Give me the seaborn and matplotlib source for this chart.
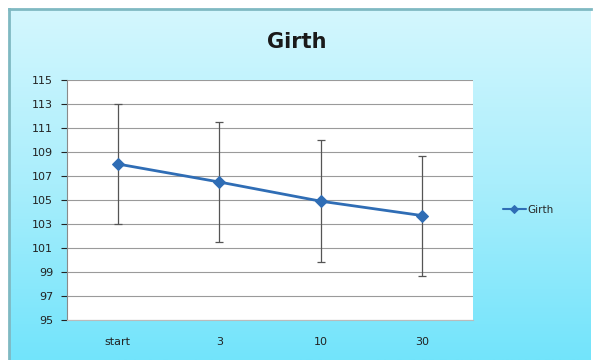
import matplotlib.pyplot as plt
import matplotlib.colors as mcolors
import numpy as np
import seaborn as sns

# values
categories = ['start', '3', '10', '30']
girth = [108.0, 106.5, 104.9, 103.7]
girth_err = [5.0, 5.0, 5.1, 5.0]
y_ticks = [95, 97, 99, 101, 103, 105, 107, 109, 111, 113, 115]

sns.set_style('white')
plt.rcParams['font.family'] = ['DejaVu Sans']

W, H = 593, 360
fig = plt.figure(figsize=(W / 100, H / 100), dpi=100)
fig.patch.set_facecolor('white')

# light blue gradient chart background
bg = fig.add_axes([9 / W, 0, (W - 11) / W, (H - 9) / H])
cmap = mcolors.LinearSegmentedColormap.from_list('sky', ['#72e4fb', '#a9eefc', '#d4f7fe'])
grad = np.linspace(0, 1, 256).reshape(-1, 1)
bg.imshow(grad, aspect='auto', cmap=cmap, origin='lower', extent=[0, 1, 0, 1])
bg.set_xticks([])
bg.set_yticks([])
for side in ['right', 'bottom']:
    bg.spines[side].set_visible(False)
for side in ['left', 'top']:
    bg.spines[side].set_color('#7fb9c2')
    bg.spines[side].set_linewidth(2)

# plot area
ax = fig.add_axes([67 / W, 1 - 320 / H, (473 - 67) / W, 240 / H])
ax.set_facecolor('white')
pos = np.arange(len(categories))

ax.errorbar(pos, girth, yerr=girth_err, fmt='none', ecolor='#555555',
            elinewidth=0.9, capsize=3, capthick=0.9, zorder=2)
sns.lineplot(x=pos, y=girth, ax=ax, color='#2f6db5', linewidth=2.0,
             marker='D', markersize=6, markeredgecolor='#2f6db5',
             label='Girth', zorder=3)

ax.set_xlim(-0.5, len(categories) - 0.5)
ax.set_ylim(95, 115)
ax.set_yticks(y_ticks)
ax.set_xticks(pos)
ax.set_xticklabels(categories)
ax.yaxis.grid(True, color='#9a9a9a', linewidth=0.8)
ax.set_axisbelow(True)
ax.tick_params(axis='y', labelsize=8, colors='#222222', length=4, width=0.8,
               direction='out', left=True, pad=6)
ax.tick_params(axis='x', labelsize=8, colors='#222222', length=0, pad=12)
for side in ['top', 'right']:
    ax.spines[side].set_visible(False)
ax.spines['left'].set_color('#8a8a8a')
ax.spines['bottom'].set_color('#bbbbbb')
for lbl in ax.get_yticklabels() + ax.get_xticklabels():
    lbl.set_color('#222222')

leg = ax.legend(loc='center left', bbox_to_anchor=(1.05, 0.46), frameon=False,
                fontsize=7.5, handlelength=2.2, handletextpad=0.2)
for h in leg.get_lines():
    h.set_markersize(4)
    h.set_linewidth(1.5)

fig.text(297 / W, 1 - 42 / H, 'Girth', ha='center', va='center',
         fontsize=15, fontweight='bold', color='#1a1a1a')

fig.savefig('out.png', dpi=100)
